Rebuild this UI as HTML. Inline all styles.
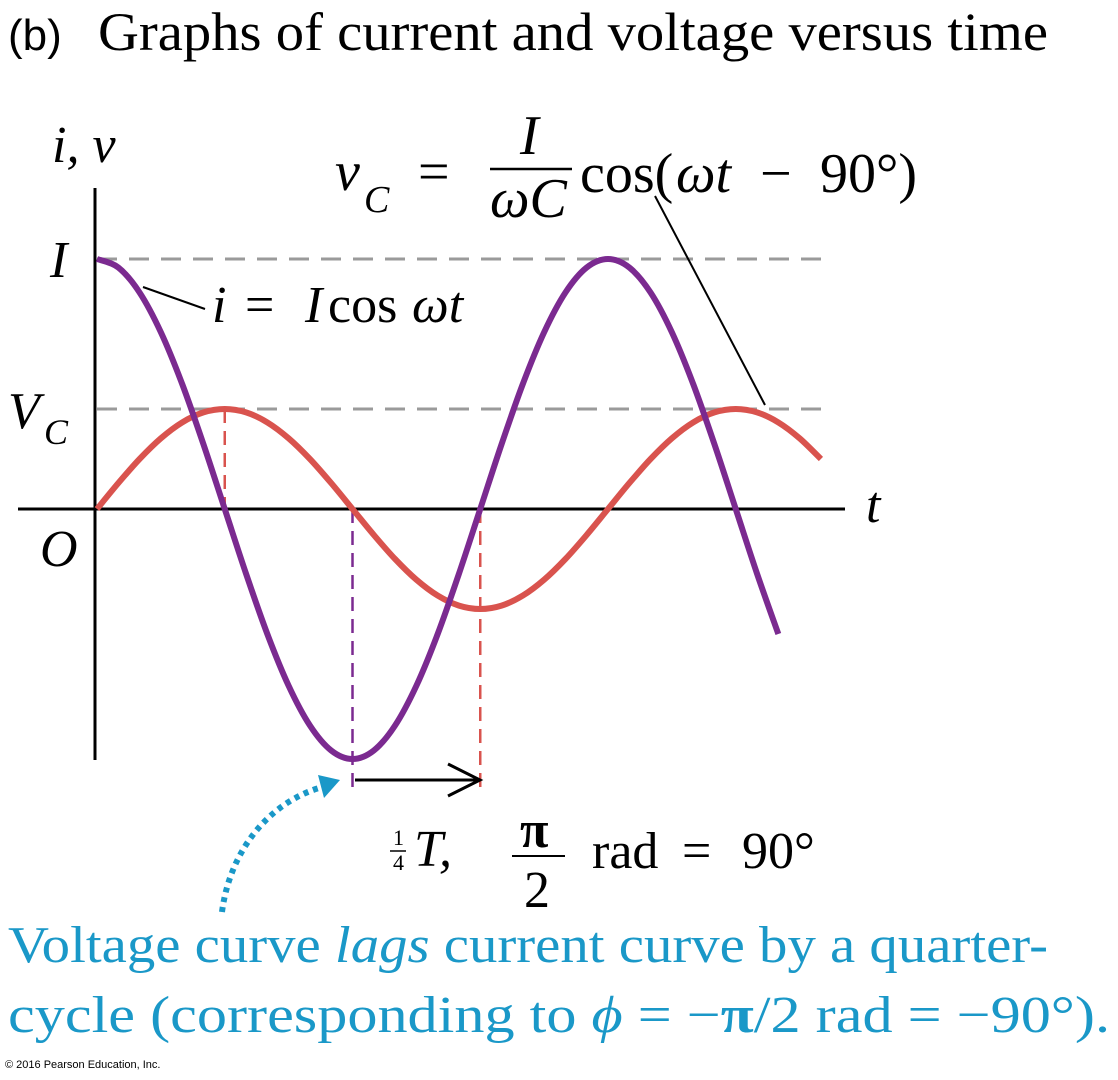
<!DOCTYPE html>
<html><head><meta charset="utf-8"><style>
html,body{margin:0;padding:0;background:#fff}
svg{display:block}
.s{font-family:"Liberation Serif",serif}
.i{font-style:italic}
</style></head><body>
<svg id="chart" width="1118" height="1080" viewBox="0 0 1118 1080" xmlns="http://www.w3.org/2000/svg">
<text x="8" y="50" font-family="Liberation Sans, sans-serif" font-size="44">(b)</text>
<text class="s" x="98" y="50" font-size="54" textLength="950" lengthAdjust="spacingAndGlyphs">Graphs of current and voltage versus time</text>
<g id="guides"></g>
<line x1="95" y1="188" x2="95" y2="760" stroke="#000" stroke-width="3"/>
<line x1="18" y1="509" x2="845" y2="509" stroke="#000" stroke-width="3"/>
<g id="series"></g>
<text class="s i" x="52" y="162" font-size="52">i, v</text>
<text class="s i" x="50" y="277" font-size="52">I</text>
<text class="s i" x="8" y="428" font-size="52">V</text>
<text class="s i" x="44" y="444" font-size="36">C</text>
<text class="s i" x="40" y="566" font-size="52">O</text>
<text class="s i" x="866" y="522" font-size="52">t</text>
<line x1="143" y1="287" x2="205" y2="309" stroke="#000" stroke-width="2"/>
<g class="s" font-size="52">
<text x="212" y="322" font-style="italic">i</text>
<text x="245" y="322">=</text>
<text x="305" y="322" font-style="italic">I</text>
<text x="328" y="322">cos</text>
<text x="412" y="322" font-style="italic">ωt</text>
</g>
<line x1="655" y1="196" x2="765" y2="405" stroke="#000" stroke-width="2"/>
<text class="s i" x="335" y="190" font-size="56">v</text>
<text class="s i" x="364" y="212" font-size="38">C</text>
<text class="s" x="418" y="190" font-size="56">=</text>
<text class="s i" x="520" y="154" font-size="56">I</text>
<line x1="490" y1="169" x2="572" y2="169" stroke="#000" stroke-width="2.5"/>
<text class="s i" x="490" y="217" font-size="56">ωC</text>
<g class="s" font-size="56">
<text x="580" y="192">cos(</text>
<text x="676" y="192" font-style="italic">ωt</text>
<text x="760" y="192">−</text>
<text x="820" y="192">90°)</text>
</g>
<line x1="355" y1="780" x2="480" y2="780" stroke="#000" stroke-width="3"/>
<polyline points="448,764 480,780 448,796" fill="none" stroke="#000" stroke-width="3"/>
<text class="s" x="393" y="845" font-size="22">1</text>
<line x1="390" y1="851" x2="406" y2="851" stroke="#000" stroke-width="1.5"/>
<text class="s" x="393" y="870" font-size="22">4</text>
<text class="s i" x="414" y="866" font-size="52">T,</text>
<text class="s" x="520" y="847" font-size="52" font-weight="bold">π</text>
<line x1="512" y1="856" x2="565" y2="856" stroke="#000" stroke-width="2"/>
<text class="s" x="524" y="907" font-size="52">2</text>
<g class="s" font-size="52">
<text x="592" y="868">rad</text>
<text x="682" y="868">=</text>
<text x="742" y="868">90°</text>
</g>
<path d="M222,912 C230,850 270,800 326,786" fill="none" stroke="#1a98c8" stroke-width="6" stroke-dasharray="5,5"/>
<polygon points="340,780 318,775 324,798" fill="#1a98c8"/>
<text class="s" x="8" y="962" font-size="52" fill="#1a98c8" textLength="1040" lengthAdjust="spacingAndGlyphs">Voltage curve <tspan font-style="italic">lags</tspan> current curve by a quarter-</text>
<text class="s" x="8" y="1032" font-size="52" fill="#1a98c8" textLength="1102" lengthAdjust="spacingAndGlyphs">cycle (corresponding to <tspan font-style="italic">ϕ</tspan> = −<tspan font-weight="bold">π</tspan>/2 rad = −90°).</text>
<text x="5" y="1068" font-family="Liberation Sans, sans-serif" font-size="11">© 2016 Pearson Education, Inc.</text>
</svg>
<script>
// sample times in periods (step 1/24)
const currentT = [0,0.0417,0.0833,0.125,0.1667,0.2083,0.25,0.2917,0.3333,0.375,0.4167,0.4583,0.5,0.5417,0.5833,0.625,0.6667,0.7083,0.75,0.7917,0.8333,0.875,0.9167,0.9583,1,1.0417,1.0833,1.125,1.1667,1.2083,1.25,1.2917,1.3333];
const currentVals = [1,0.966,0.866,0.707,0.5,0.259,0,-0.259,-0.5,-0.707,-0.866,-0.966,-1,-0.966,-0.866,-0.707,-0.5,-0.259,0,0.259,0.5,0.707,0.866,0.966,1,0.966,0.866,0.707,0.5,0.259,0,-0.259,-0.5];
const voltageT = [0,0.0417,0.0833,0.125,0.1667,0.2083,0.25,0.2917,0.3333,0.375,0.4167,0.4583,0.5,0.5417,0.5833,0.625,0.6667,0.7083,0.75,0.7917,0.8333,0.875,0.9167,0.9583,1,1.0417,1.0833,1.125,1.1667,1.2083,1.25,1.2917,1.3333,1.375,1.4167];
const voltageVals = [0,0.259,0.5,0.707,0.866,0.966,1,0.966,0.866,0.707,0.5,0.259,0,-0.259,-0.5,-0.707,-0.866,-0.966,-1,-0.966,-0.866,-0.707,-0.5,-0.259,0,0.259,0.5,0.707,0.866,0.966,1,0.966,0.866,0.707,0.5];
const currentAmp = 1;   // I
const voltageAmp = 0.4; // V_C relative to I
const markT = [0.25, 0.5, 0.75]; // voltage peak, current min, voltage min

const NS = 'http://www.w3.org/2000/svg';
const X0 = 97, PERIOD = 511, Y0 = 509, AMP = 250;
const xs = t => X0 + t * PERIOD;
const ys = v => Y0 - v * AMP;

const guides = document.getElementById('guides');
const series = document.getElementById('series');
function mk(tag, attrs, parent){const e=document.createElementNS(NS,tag);for(const k in attrs)e.setAttribute(k,attrs[k]);parent.appendChild(e);return e;}
function smooth(px){let d='M'+px[0][0]+','+px[0][1];for(let i=0;i<px.length-1;i++){const p0=px[Math.max(0,i-1)],p1=px[i],p2=px[i+1],p3=px[Math.min(px.length-1,i+2)];d+=' C'+(p1[0]+(p2[0]-p0[0])/6)+','+(p1[1]+(p2[1]-p0[1])/6)+' '+(p2[0]-(p3[0]-p1[0])/6)+','+(p2[1]-(p3[1]-p1[1])/6)+' '+p2[0]+','+p2[1];}return d;}

const gI = mk('line',{x1:X0,y1:ys(currentAmp),x2:830,y2:ys(currentAmp),stroke:'#9a9a9a','stroke-width':3,'stroke-dasharray':'20,12'},guides);


const gV = mk('line',{x1:X0,y1:ys(voltageAmp),x2:830,y2:ys(voltageAmp),stroke:'#9a9a9a','stroke-width':3,'stroke-dasharray':'20,12'},guides);



const d1 = mk('line',{x1:xs(markT[0]),y1:ys(voltageAmp),x2:xs(markT[0]),y2:Y0,stroke:'#d9534e','stroke-width':2.5,'stroke-dasharray':'14,8'},guides);


const d2 = mk('line',{x1:xs(markT[1]),y1:Y0,x2:xs(markT[1]),y2:795,stroke:'#7b2a90','stroke-width':2.5,'stroke-dasharray':'14,8'},guides);


const d3 = mk('line',{x1:xs(markT[2]),y1:Y0,x2:xs(markT[2]),y2:795,stroke:'#d9534e','stroke-width':2.5,'stroke-dasharray':'14,8'},guides);



const vLine = mk('path',{d:smooth(voltageT.map((t,i)=>[xs(t),ys(voltageVals[i]*voltageAmp)])),fill:'none',stroke:'#d9534e','stroke-width':6,'stroke-linejoin':'round'},series);


const iLine = mk('path',{d:smooth(currentT.map((t,i)=>[xs(t),ys(currentVals[i]*currentAmp)])),fill:'none',stroke:'#7b2a90','stroke-width':6,'stroke-linejoin':'round'},series);


</script>
</body></html>
